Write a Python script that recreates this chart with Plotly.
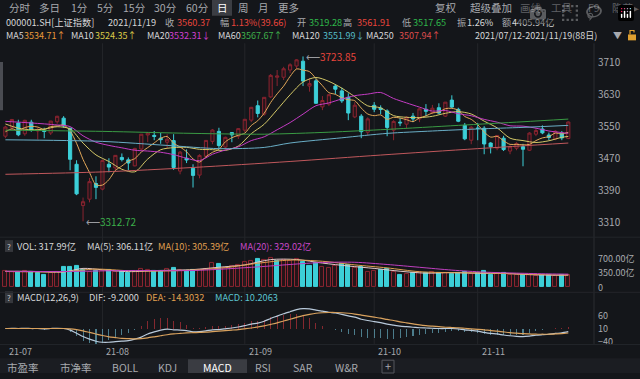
import plotly.graph_objects as go

W, H = 640, 379

# ---------------- data ----------------
dates = ["07-12","07-13","07-14","07-15","07-16","07-19","07-20","07-21","07-22","07-23",
         "07-26","07-27","07-28","07-29","07-30",
         "08-02","08-03","08-04","08-05","08-06","08-09","08-10","08-11","08-12","08-13",
         "08-16","08-17","08-18","08-19","08-20","08-23","08-24","08-25","08-26","08-27",
         "08-30","08-31",
         "09-01","09-02","09-03","09-06","09-07","09-08","09-09","09-10","09-13","09-14",
         "09-15","09-16","09-17","09-22","09-23","09-24","09-27","09-28","09-29","09-30",
         "10-08","10-11","10-12","10-13","10-14","10-15","10-18","10-19","10-20","10-21",
         "10-22","10-25","10-26","10-27","10-28","10-29",
         "11-01","11-02","11-03","11-04","11-05","11-08","11-09","11-10","11-11","11-12",
         "11-15","11-16","11-17","11-18","11-19"]

opens = [3525.0,3546.0,3558.0,3531.0,3560.0,3538.0,3539.0,3533.0,3561.0,3570.0,
         3545.0,3455.0,3352.0,3368.0,3407.0,3393.0,3455.0,3446.0,3472.0,3466.0,
         3451.0,3493.0,3528.0,3527.0,3520.0,3510.0,3514.0,3438.0,3470.0,3445.0,
         3428.0,3475.0,3512.0,3537.0,3498.0,3534.0,3525.0,3540.0,3565.0,3601.0,
         3580.0,3623.0,3672.0,3672.0,3690.0,3700.0,3712.0,3650.0,3663.0,3598.0,
         3605.0,3650.0,3638.0,3622.0,3573.0,3575.0,3535.0,3602.0,3595.0,3588.0,
         3540.0,3560.0,3555.0,3575.0,3568.0,3592.0,3584.0,3596.0,3575.0,3615.0,
         3592.0,3552.0,3515.0,3545.0,3545.0,3508.0,3495.0,3520.0,3488.0,3495.0,
         3499.0,3490.0,3530.0,3543.0,3528.0,3518.0,3532.0,3519.28]
highs = [3551.0,3568.0,3566.0,3566.0,3566.0,3547.0,3546.0,3563.0,3576.0,3575.0,
         3546.0,3465.0,3372.0,3421.0,3425.0,3467.0,3470.0,3478.0,3482.0,3472.0,
         3496.0,3530.0,3535.0,3538.0,3533.0,3530.0,3530.0,3488.0,3492.0,3455.0,
         3480.0,3515.0,3543.0,3546.0,3524.0,3535.0,3545.0,3568.0,3598.0,3614.0,
         3622.0,3680.0,3690.0,3698.0,3707.0,3717.0,3723.85,3670.0,3668.0,3625.0,
         3630.0,3655.0,3646.0,3632.0,3610.0,3580.0,3572.0,3610.0,3602.0,3592.0,
         3565.0,3570.0,3575.0,3583.0,3595.0,3605.0,3603.0,3607.0,3610.0,3627.0,
         3596.0,3558.0,3550.0,3558.0,3550.0,3510.0,3528.0,3526.0,3502.0,3510.0,
         3506.0,3535.0,3545.0,3552.0,3534.0,3540.0,3538.0,3561.91]
lows = [3520.0,3540.0,3525.0,3526.0,3536.0,3517.0,3520.0,3528.0,3556.0,3546.0,
        3440.0,3378.0,3312.72,3360.0,3368.0,3390.0,3435.0,3440.0,3462.0,3440.0,
        3450.0,3489.0,3510.0,3515.0,3506.0,3495.0,3441.0,3430.0,3458.0,3397.0,
        3420.0,3470.0,3505.0,3494.0,3492.0,3510.0,3518.0,3535.0,3560.0,3572.0,
        3576.0,3620.0,3650.0,3665.0,3682.0,3693.0,3650.0,3636.0,3606.0,3590.0,
        3600.0,3630.0,3608.0,3565.0,3570.0,3520.0,3528.0,3585.0,3580.0,3525.0,
        3515.0,3550.0,3545.0,3560.0,3560.0,3575.0,3580.0,3580.0,3573.0,3595.0,
        3560.0,3515.0,3505.0,3515.0,3480.0,3482.0,3490.0,3488.0,3480.0,3490.0,
        3450.0,3488.0,3525.0,3530.0,3515.0,3515.0,3515.0,3517.65]
closes = [3547.8,3566.7,3528.5,3564.6,3539.3,3539.1,3536.8,3562.7,3574.7,3550.4,
          3467.4,3381.2,3361.6,3411.7,3397.4,3464.3,3448.0,3477.2,3466.6,3458.2,
          3494.6,3529.9,3532.6,3524.7,3516.3,3517.3,3447.0,3485.3,3465.6,3427.3,
          3477.1,3514.5,3540.4,3501.7,3522.2,3528.2,3543.9,3567.1,3597.0,3581.7,
          3621.9,3676.6,3675.2,3693.1,3703.1,3715.4,3662.6,3656.2,3607.1,3614.0,
          3628.5,3642.2,3613.1,3582.8,3602.2,3536.3,3568.2,3592.2,3591.7,3546.9,
          3561.8,3558.3,3572.4,3568.1,3593.2,3587.0,3594.8,3582.6,3609.9,3597.6,
          3562.3,3518.4,3547.3,3544.5,3505.6,3498.5,3526.9,3491.6,3498.6,3507.0,
          3492.5,3532.8,3539.1,3533.3,3521.8,3537.4,3520.7,3560.37]
prev_close_first = 3524.08

volumes = [413,390,393,402,393,359,311,356,390,498,
           498,539,441,390,417,402,433,390,375,359,
           390,471,437,401,401,448,482,437,417,433,
           425,471,598,580,494,529,552,645,668,718,
           691,737,662,691,668,714,646,539,621,506,
           483,529,580,564,494,498,390,413,441,457,
           390,311,344,367,379,367,390,367,370,345,
           350,380,330,350,405,318,330,348,298,309,
           318,310,289,310,305,295,302,317.99]

ma5 = [3536.0,3543.4,3538.6,3546.6,3549.6,3547.8,3541.8,3548.6,3550.6,3552.8,
       3538.4,3507.2,3467.0,3434.4,3403.8,3403.2,3416.6,3439.6,3450.6,3462.8,
       3469.0,3485.4,3496.6,3508.2,3519.8,3524.2,3507.6,3498.0,3486.2,3468.4,
       3460.4,3473.8,3484.8,3492.0,3511.0,3521.2,3527.2,3532.6,3551.6,3563.6,
       3582.4,3609.0,3630.6,3649.8,3674.0,3692.6,3689.8,3686.0,3668.8,3651.0,
       3633.6,3629.4,3620.8,3616.0,3613.6,3595.2,3580.4,3576.2,3578.0,3567.0,
       3572.2,3570.2,3566.2,3561.4,3570.6,3575.6,3583.0,3585.2,3593.6,3594.6,
       3589.6,3574.2,3567.0,3553.8,3535.4,3522.8,3524.6,3513.6,3504.6,3504.8,
       3503.4,3504.6,3514.0,3520.8,3523.8,3532.8,3530.4,3534.71]
ma10_idx = [0,2,4,6,8,10,12,14,16,18,20,22,24,26,28,30,32,34,36,38,40,42,44,46,48,50,
            52,54,56,58,60,62,64,66,68,70,72,74,76,78,80,82,84,86,87]
ma10_val = [3555.5,3545.0,3541.0,3542.6,3548.6,3543.1,3507.8,3478.3,3461.9,3442.5,3436.1,
            3468.1,3491.3,3496.5,3497.2,3492.3,3491.4,3489.7,3500.5,3531.3,3554.8,3591.1,
            3628.2,3660.2,3671.4,3661.7,3644.8,3623.6,3600.6,3595.8,3576.3,3572.1,3571.4,
            3574.6,3582.1,3586.3,3580.3,3562.5,3545.8,3520.0,3514.0,3509.3,3513.6,3522.2,
            3524.35]
ma20_idx = [0,4,8,10,12,14,16,18,20,22,24,26,28,30,32,34,36,38,40,42,44,46,48,50,52,
            54,56,58,60,62,64,66,68,70,72,74,76,78,80,82,84,86,87]
ma20_val = [3562,3558,3553,3549,3526,3510,3502,3496,3490,3488,3485,3479,3470,3464,3480,
            3490.5,3498.5,3514,3523.5,3541,3559,3580,3601,3608,3618,3626,3630,3634,3619,
            3608,3597.5,3587.6,3589,3581,3576,3567,3560,3551,3550,3545,3538,3534,3532.31]
ma60_idx = [0,15,29,40,50,59,70,80,87]
ma60_val = [3540,3537,3532,3530,3535,3542,3552,3561,3567.67]
ma120_idx = [0,15,25,33,40,44,52,59,66,73,80,87]
ma120_val = [3516,3512,3502,3494,3497,3508,3521,3532,3538,3543,3547,3551.99]
ma250_idx = [0,15,29,44,58,73,87]
ma250_val = [3430,3436,3447,3462,3478,3494,3507.94]

vma5_idx = [0,4,9,12,15,19,24,29,33,37,41,45,49,53,57,61,65,69,73,77,81,85,87]
vma5_val = [400,398,383,473,438,392,420,443,501,560,692,694,605,532,472,402,354,368,351,350,317,302,306.11]
vma10_idx = [0,9,14,19,24,29,34,39,44,49,54,59,64,69,74,79,84,87]
vma10_val = [395,390,455,415,406,432,490,600,680,650,560,485,390,365,360,335,315,305.39]
vma20_idx = [0,9,19,29,39,44,49,54,59,64,69,74,79,84,87]
vma20_val = [400,395,420,420,510,570,620,625,570,500,430,380,355,335,329.02]

dif = [3,4,3,4,3,3,2,3,4,3,
       -3,-15,-28,-38,-46,-50,-50,-48,-46,-44,
       -38,-30,-18,-10,-3,1,-2,-3,-5,-10,
       -9,-6,-2,-1,2,5,9,14,20,24,
       31,42,51,60,68,76,80,79,74,70,
       66,63,58,52,47,39,34,30,26,20,
       16,12,10,8,6,5,4,3,3,3,
       2,-2,-4,-7,-12,-16,-18,-22,-25,-27,
       -28,-26,-23,-21,-19,-16,-14,-9.2]
dea = [3,3,3,3,3,3,3,3,3,3,
       2,-1,-6,-12,-18,-24,-29,-32,-35,-36,
       -37,-36,-33,-29,-25,-21,-18,-16,-14,-13,
       -12,-11,-9,-7,-5,-3,-1,2,5,9,
       13,19,25,32,39,46,53,58,62,64,
       65,65,64,62,59,55,51,47,43,38,
       34,29,25,21,17,14,12,10,8,7,
       6,4,2,0,-2,-5,-7,-10,-13,-15,
       -17,-18,-19,-19,-19,-18,-17,-14.3032]
macd_hist = [0,2,0,2,0,0,-2,0,2,0,
             -10,-28,-44,-52,-56,-52,-42,-32,-22,-16,
             -2,12,30,38,44,44,32,26,18,6,
             6,10,14,12,14,16,20,24,30,30,
             36,46,52,56,58,60,54,42,24,12,
             2,-4,-12,-20,-24,-32,-34,-34,-34,-36,
             -36,-34,-30,-26,-22,-18,-16,-14,-10,-8,
             -8,-12,-12,-14,-20,-22,-22,-24,-24,-24,
             -22,-16,-8,-4,0,4,6,10.2063]

month_tick_idx = [0, 15, 37, 57, 73]
month_tick_labels = ["21-07", "21-08", "21-09", "21-10", "21-11"]
price_ticks = [3310, 3390, 3470, 3550, 3630, 3710]
vol_ticks = [0, 350, 700]
vol_tick_text = ["0", "350.00亿", "700.00亿"]
macd_ticks = [-40, 10, 60]

# ---------------- styling ----------------
BG = "#14161a"
GRAY = "#a7a9ae"
WHITE = "#d6d6d8"
RED = "#e8453c"
GREEN = "#2fb84a"
CYAN = "#3ccfd8"
UPRED = "#8a2430"
FONT = "Noto Sans CJK SC, Noto Sans, sans-serif"
TS = 9.2  # small text size

xi = list(range(len(dates)))


def fx(p):
    return p / W


def fy(p):
    return 1 - p / H


X_RIGHT = 594
x_range = [-0.835, (X_RIGHT - 5.4) / 6.47]

fig = go.Figure()

# price panel
fig.add_trace(go.Candlestick(
    x=xi, open=opens, high=highs, low=lows, close=closes,
    increasing=dict(line=dict(color=UPRED, width=1), fillcolor="rgba(100,18,26,0.25)"),
    decreasing=dict(line=dict(color=CYAN, width=1), fillcolor=CYAN),
    whiskerwidth=0, xaxis="x", yaxis="y", hoverinfo="skip"))

ma_lines = [
    (xi, ma5, "#e3a85a"),
    (ma10_idx, ma10_val, "#d4c868"),
    (ma20_idx, ma20_val, "#c43cc4"),
    (ma60_idx, ma60_val, "#3a9a44"),
    (ma120_idx, ma120_val, "#6aaec6"),
    (ma250_idx, ma250_val, "#c0585c"),
]
for xs, ys, col in ma_lines:
    fig.add_trace(go.Scatter(x=xs, y=ys, mode="lines",
                             line=dict(color=col, width=1, shape="spline", smoothing=0.8),
                             xaxis="x", yaxis="y", hoverinfo="skip"))

# volume panel
prevs = [prev_close_first] + closes[:-1]
vol_up = [c >= p for c, p in zip(closes, prevs)]
fig.add_trace(go.Bar(
    x=xi, y=volumes, width=0.62,
    marker=dict(color=["rgba(100,18,26,0.2)" if u else CYAN for u in vol_up],
                line=dict(color=[UPRED if u else CYAN for u in vol_up], width=1)),
    xaxis="x2", yaxis="y2", hoverinfo="skip"))
for xs, ys, col in [(vma5_idx, vma5_val, "#e2c8c8"),
                    (vma10_idx, vma10_val, "#e0a050"),
                    (vma20_idx, vma20_val, "#c040c0")]:
    fig.add_trace(go.Scatter(x=xs, y=ys, mode="lines",
                             line=dict(color=col, width=1, shape="spline", smoothing=0.8),
                             xaxis="x2", yaxis="y2", hoverinfo="skip"))

# MACD panel
fig.add_trace(go.Bar(
    x=xi, y=macd_hist, width=0.16,
    marker=dict(color=["rgba(160,45,52,0.8)" if v >= 0 else "rgba(100,170,190,0.7)" for v in macd_hist],
                line=dict(width=0)),
    xaxis="x3", yaxis="y3", hoverinfo="skip"))
fig.add_trace(go.Scatter(x=xi, y=dif, mode="lines",
                         line=dict(color="#b9cadb", width=1.2, shape="spline", smoothing=0.6),
                         xaxis="x3", yaxis="y3", hoverinfo="skip"))
fig.add_trace(go.Scatter(x=xi, y=dea, mode="lines",
                         line=dict(color="#d9a25e", width=1.2, shape="spline", smoothing=0.6),
                         xaxis="x3", yaxis="y3", hoverinfo="skip"))

# ---------------- annotations ----------------
ann = []


def txt(x, y, s, color=GRAY, size=TS, anchor="left"):
    ann.append(dict(x=fx(x), y=fy(y), xref="paper", yref="paper", text=s, showarrow=False,
                    xanchor=anchor, yanchor="middle", borderpad=0,
                    font=dict(family=FONT, size=size, color=color)))


# row 1 toolbar
for x, s in [(8, "分时"), (38, "多日"), (70, "1分"), (96, "5分"), (122, "15分"), (153, "30分"),
             (185, "60分"), (237, "周"), (257, "月"), (277, "更多"),
             (434, "复权"), (469, "超级叠加"), (519, "画线"), (550, "工具"), (587, "F9"), (611, "隐藏▸")]:
    txt(x, 8, s, GRAY, 10.5)
txt(222, 8, "日", "#ffffff", 10.5, "center")

# row 2 quote
for x, s, c in [(5, "000001.SH[上证指数]", WHITE), (107, "2021/11/19", WHITE), (164, "收", GRAY),
                (176, "3560.37", RED), (219, "幅", GRAY), (230, "1.13%(39.66)", RED),
                (296, "开", GRAY), (308, "3519.28", GREEN), (342, "高", GRAY), (356, "3561.91", RED),
                (401, "低", GRAY), (412, "3517.65", GREEN), (456, "振", GRAY), (466, "1.26%", WHITE),
                (501, "额", GRAY), (511, "4405.94亿", WHITE)]:
    txt(x, 22, s, c)

# row 3 MA legend
for x, s, c in [(5, "MA5", WHITE), (23, "3534.71↑", "#e89a3a"), (70, "MA10", WHITE),
                (94, "3524.35↑", "#dccb48"), (146, "MA20", WHITE), (168, "3532.31↓", "#d040d0"),
                (217, "MA60", WHITE), (240, "3567.67↑", "#3fb04a"), (291, "MA120", WHITE),
                (322, "3551.99↓", "#56bcc8"), (365, "MA250", WHITE), (398, "3507.94↑", "#dc4c4c"),
                (474, "2021/07/12-2021/11/19(88日)", WHITE), (612, "▼", GRAY)]:
    txt(x, 36, s, c, 9)

# volume legend
for x, s, c in [(16, "VOL: 317.99亿", WHITE), (86, "MA(5): 306.11亿", WHITE),
                (157, "MA(10): 305.39亿", "#e0a050"), (239, "MA(20): 329.02亿", "#c848c8")]:
    txt(x, 250, s, c)
txt(9, 250, "?", "#c8c8c8", 8, "center")

# MACD legend
for x, s, c in [(16, "MACD(12,26,9)", WHITE), (88, "DIF: -9.2000", WHITE),
                (145, "DEA: -14.3032", "#e0a050"), (214, "MACD: 10.2063", "#5cc4d0")]:
    txt(x, 302, s, c)
txt(9, 302, "?", "#c8c8c8", 8, "center")

# bottom tabs
for x, s in [(6, "市盈率"), (59, "市净率"), (111, "BOLL"), (157, "KDJ"), (254, "RSI"),
             (292, "SAR"), (334, "W&amp;R")]:
    txt(x, 373, s, GRAY, 10.5)
txt(217, 373, "MACD", "#ffffff", 10.5, "center")
txt(388, 372, "+", GRAY, 11, "center")

# month labels on x axis
for i, lab in zip(month_tick_idx, month_tick_labels):
    ann.append(dict(x=i, y=fy(357), xref="x", yref="paper", text=lab, showarrow=False,
                    xanchor="left", yanchor="middle", xshift=2,
                    font=dict(family=FONT, size=9, color=GRAY)))

# extreme price marks
i_hi = highs.index(max(highs))
i_lo = lows.index(min(lows))
ann.append(dict(x=i_hi, y=max(highs), xref="x", yref="y", showarrow=False, xanchor="left",
                yanchor="middle", xshift=1,
                text="<span style='color:#9a9ca0'>⟵</span>%.2f" % max(highs),
                font=dict(family=FONT, size=10, color=RED)))
ann.append(dict(x=i_lo, y=min(lows), xref="x", yref="y", showarrow=False, xanchor="left",
                yanchor="middle", xshift=1,
                text="<span style='color:#9a9ca0'>⟵</span>%.2f" % min(lows),
                font=dict(family=FONT, size=10, color="#3cb04a")))

# ---------------- shapes ----------------
shapes = []
shapes.append(dict(type="rect", xref="paper", yref="paper", x0=fx(212), x1=fx(232), y0=fy(16), y1=fy(0),
                   fillcolor="#3b3d43", line=dict(width=0), layer="below"))
shapes.append(dict(type="rect", xref="paper", yref="paper", x0=fx(0), x1=fx(640), y0=fy(379), y1=fy(364),
                   fillcolor="#1b1d22", line=dict(width=0), layer="below"))
shapes.append(dict(type="rect", xref="paper", yref="paper", x0=fx(188), x1=fx(247), y0=fy(379), y1=fy(365),
                   fillcolor="#3a3c42", line=dict(width=0), layer="below"))
shapes.append(dict(type="rect", xref="paper", yref="paper", x0=fx(382), x1=fx(394), y0=fy(379), y1=fy(366),
                   fillcolor="rgba(0,0,0,0)", line=dict(width=1, color="#55575c")))
for yc in (250, 302):
    shapes.append(dict(type="rect", xref="paper", yref="paper", x0=fx(5), x1=fx(13), y0=fy(yc + 6),
                       y1=fy(yc - 6), fillcolor="#35373c", line=dict(width=0), layer="below"))
shapes.append(dict(type="rect", xref="paper", yref="paper", x0=fx(628), x1=fx(636), y0=fy(41), y1=fy(35),
                   fillcolor="#e0a030", line=dict(width=0)))
shapes.append(dict(type="path", xref="paper", yref="paper",
                   path="M %f %f L %f %f L %f %f L %f %f" % (fx(630), fy(35), fx(630), fy(31),
                                                            fx(634), fy(31), fx(634), fy(33)),
                   line=dict(color="#e0a030", width=1.2)))
shapes.append(dict(type="rect", xref="paper", yref="paper", x0=fx(0), x1=fx(3), y0=fy(112), y1=fy(63),
                   fillcolor="#4a4c52", line=dict(width=0)))
shapes.append(dict(type="line", xref="paper", yref="paper", x0=fx(X_RIGHT), x1=fx(X_RIGHT), y0=fy(350),
                   y1=fy(44), line=dict(color="#2a2c31", width=1)))
for yy in (241, 297, 350):
    shapes.append(dict(type="line", xref="paper", yref="paper", x0=0, x1=1, y0=fy(yy), y1=fy(yy),
                       line=dict(color="#23252a", width=1)))
for i in month_tick_idx[1:]:
    shapes.append(dict(type="line", xref="x", yref="paper", x0=i, x1=i, y0=fy(350), y1=fy(44),
                       line=dict(color="rgba(255,255,255,0.07)", width=1), layer="below"))

# ---------------- axes ----------------
xcommon = dict(range=x_range, domain=[0, fx(X_RIGHT)], showticklabels=False, showgrid=False,
               zeroline=False, showline=False, ticks="", fixedrange=True)
ycommon = dict(side="right", showgrid=False, zeroline=False, showline=False, ticks="",
               tickfont=dict(family=FONT, size=9.5, color=GRAY), ticklabelstandoff=3, fixedrange=True)

fig.update_layout(
    width=W, height=H, margin=dict(l=0, r=0, t=0, b=0),
    paper_bgcolor=BG, plot_bgcolor=BG, showlegend=False, hovermode=False,
    xaxis=dict(xcommon, anchor="y", rangeslider=dict(visible=False)),
    xaxis2=dict(xcommon, anchor="y2", matches="x"),
    xaxis3=dict(xcommon, anchor="y3", matches="x"),
    yaxis=dict(ycommon, domain=[fy(238), fy(45)],
               range=[3710 - (238 - 63) / 0.4075, 3710 + (63 - 45) / 0.4075],
               tickvals=price_ticks, anchor="x",
               tickfont=dict(family=FONT, size=10, color=GRAY)),
    yaxis2=dict(ycommon, domain=[fy(292), fy(257)], range=[0, (292 - 257) * 24.5],
                tickvals=vol_ticks, ticktext=vol_tick_text, anchor="x2",
                tickfont=dict(family=FONT, size=9, color=GRAY)),
    yaxis3=dict(ycommon, domain=[fy(350), fy(310)],
                range=[(334.6 - 350) / 0.263, (334.6 - 310) / 0.263],
                tickvals=macd_ticks, anchor="x3", ticklabelshift=2,
                tickfont=dict(family=FONT, size=9, color=GRAY)),
    annotations=ann, shapes=shapes, bargap=0,
)

fig.write_html("out.html", post_script="document.body.style.margin='0';document.body.style.background='%s';" % BG)
